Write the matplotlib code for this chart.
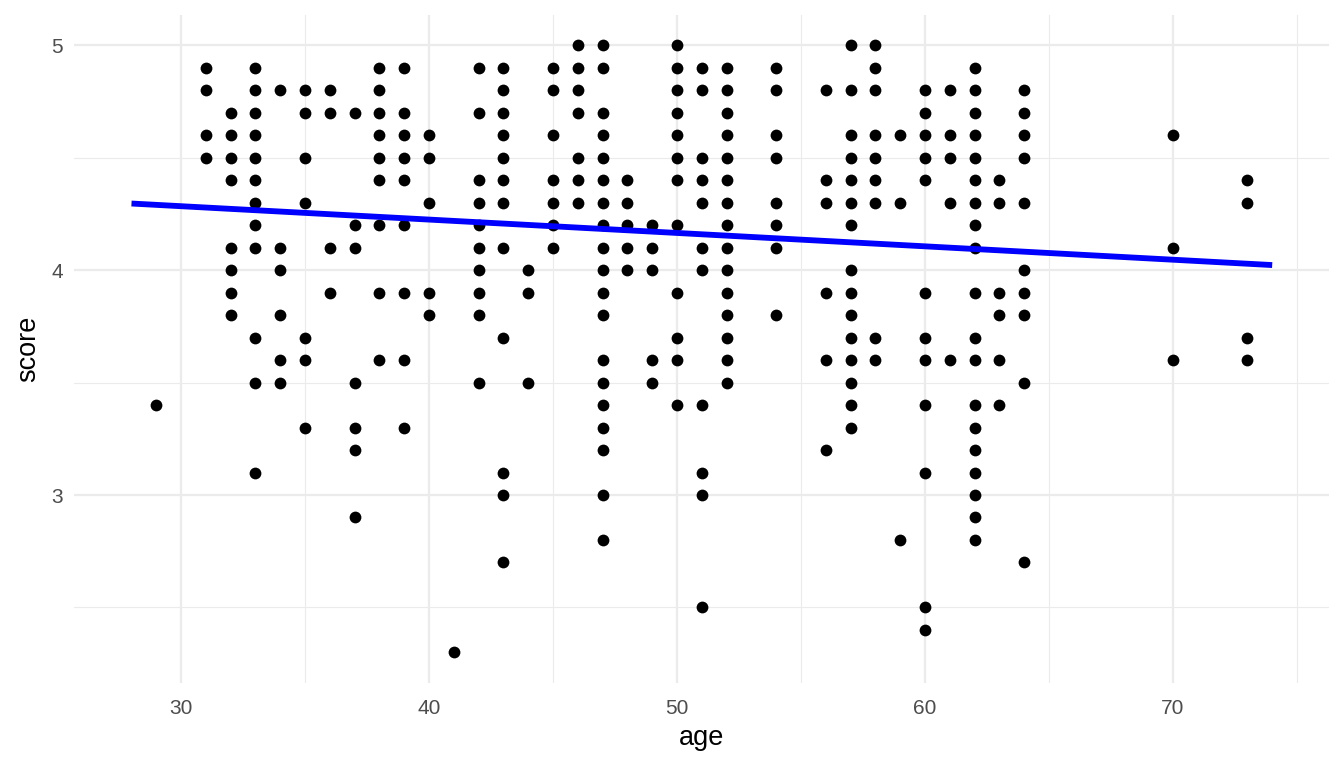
import numpy as np
import matplotlib
matplotlib.use("Agg")
from matplotlib import pyplot as plt

plt.rcParams['font.family'] = ['Liberation Sans', 'DejaVu Sans']

# score values seen at each age (overlapping points drawn once)
scores_by_age = {
    29: [3.4],
    31: [4.9, 4.8, 4.6, 4.5],
    32: [4.7, 4.6, 4.5, 4.4, 4.1, 4.0, 3.9, 3.8],
    33: [4.9, 4.8, 4.7, 4.6, 4.5, 4.4, 4.3, 4.2, 4.1, 3.7, 3.5, 3.1],
    34: [4.8, 4.1, 4.0, 3.8, 3.6, 3.5],
    35: [4.8, 4.7, 4.5, 4.3, 3.7, 3.6, 3.3],
    36: [4.8, 4.7, 4.1, 3.9],
    37: [4.7, 4.2, 4.1, 3.5, 3.3, 3.2, 2.9],
    38: [4.9, 4.8, 4.7, 4.6, 4.5, 4.4, 4.2, 3.9, 3.6],
    39: [4.9, 4.7, 4.6, 4.5, 4.4, 4.2, 3.9, 3.6, 3.3],
    40: [4.6, 4.5, 4.3, 3.9, 3.8],
    41: [2.3],
    42: [4.9, 4.7, 4.4, 4.3, 4.2, 4.1, 4.0, 3.9, 3.8, 3.5],
    43: [4.9, 4.8, 4.7, 4.6, 4.5, 4.4, 4.3, 4.1, 3.7, 3.1, 3.0, 2.7],
    44: [4.0, 3.9, 3.5],
    45: [4.9, 4.8, 4.6, 4.4, 4.3, 4.2, 4.1],
    46: [5.0, 4.9, 4.8, 4.7, 4.5, 4.4, 4.3],
    47: [5.0, 4.9, 4.7, 4.6, 4.5, 4.4, 4.3, 4.2, 4.1, 4.0, 3.9, 3.8,
         3.6, 3.5, 3.4, 3.3, 3.2, 3.0, 2.8],
    48: [4.4, 4.3, 4.2, 4.1, 4.0],
    49: [4.2, 4.1, 4.0, 3.6, 3.5],
    50: [5.0, 4.9, 4.8, 4.7, 4.6, 4.5, 4.4, 4.2, 3.9, 3.7, 3.6, 3.4],
    51: [4.9, 4.8, 4.5, 4.4, 4.3, 4.1, 4.0, 3.4, 3.1, 3.0, 2.5],
    52: [4.9, 4.8, 4.7, 4.6, 4.5, 4.4, 4.3, 4.2, 4.1, 4.0, 3.9, 3.8,
         3.7, 3.6, 3.5],
    54: [4.9, 4.8, 4.6, 4.5, 4.3, 4.2, 4.1, 3.8],
    56: [4.8, 4.4, 4.3, 3.9, 3.6, 3.2],
    57: [5.0, 4.8, 4.6, 4.5, 4.4, 4.3, 4.2, 4.0, 3.9, 3.8, 3.7, 3.6,
         3.5, 3.4, 3.3],
    58: [5.0, 4.9, 4.8, 4.6, 4.5, 4.4, 4.3, 3.7, 3.6],
    59: [4.6, 4.3, 2.8],
    60: [4.8, 4.7, 4.6, 4.5, 4.4, 3.9, 3.7, 3.6, 3.4, 3.1, 2.5, 2.4],
    61: [4.8, 4.6, 4.5, 4.3, 3.6],
    62: [4.9, 4.8, 4.7, 4.6, 4.5, 4.4, 4.3, 4.2, 4.1, 3.9, 3.7, 3.6,
         3.4, 3.3, 3.2, 3.1, 3.0, 2.9, 2.8],
    63: [4.4, 4.3, 3.9, 3.8, 3.6, 3.4],
    64: [4.8, 4.7, 4.6, 4.5, 4.3, 4.0, 3.9, 3.8, 3.5, 2.7],
    70: [4.6, 4.1, 3.6],
    73: [4.4, 4.3, 3.7, 3.6],
}

# linear fit
fit_intercept = 4.463
fit_slope = -0.00595
fit_range = [28, 74]

age = np.concatenate([[a] * len(v) for a, v in scores_by_age.items()])
score = np.concatenate([v for v in scores_by_age.values()])

fig = plt.figure(figsize=(13.44, 7.68), dpi=100)
ax = fig.add_axes([0.0554, 0.111, 0.9336, 0.8695])

grid_col = "#EBEBEB"
for x in range(30, 80, 10):
    ax.axvline(x, color=grid_col, lw=1.6, zorder=0)
for x in range(25, 80, 10):
    ax.axvline(x, color=grid_col, lw=0.8, zorder=0)
for y in [3, 4, 5]:
    ax.axhline(y, color=grid_col, lw=1.6, zorder=0)
for y in [2.5, 3.5, 4.5]:
    ax.axhline(y, color=grid_col, lw=0.8, zorder=0)

ax.scatter(age, score, s=72, color="black", linewidths=0, zorder=2)

xs = np.array(fit_range, dtype=float)
ax.plot(xs, fit_intercept + fit_slope * xs, color="#0000FF", lw=4.2,
        solid_capstyle="butt", zorder=3)

ax.set_xlim(25.7, 76.3)
ax.set_ylim(2.165, 5.135)
ax.set_xticks([30, 40, 50, 60, 70])
ax.set_yticks([3, 4, 5])
ax.tick_params(length=0, labelsize=15, labelcolor="#4D4D4D")
ax.tick_params(axis="x", pad=12)
ax.tick_params(axis="y", pad=8.5)
for s in ax.spines.values():
    s.set_visible(False)
ax.set_xlabel("age", fontsize=19.5, labelpad=5)
ax.set_ylabel("score", fontsize=19.5, labelpad=7)

fig.savefig("out.png", dpi=100)
